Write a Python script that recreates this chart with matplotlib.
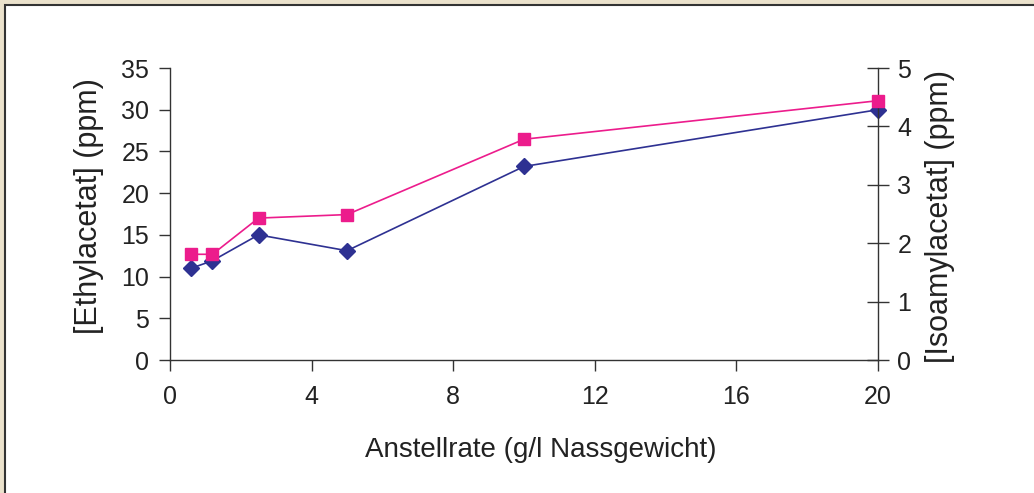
import matplotlib.pyplot as plt
from matplotlib.patches import Rectangle

plt.rcParams['font.family'] = ['Liberation Sans', 'DejaVu Sans']

# data
anstellrate = [0.6, 1.2, 2.5, 5.0, 10.0, 20.0]
ethylacetat = [11.0, 11.9, 15.0, 13.1, 23.2, 30.0]
isoamylacetat = [1.81, 1.81, 2.43, 2.49, 3.78, 4.44]

x_ticks = [0, 4, 8, 12, 16, 20]
left_ticks = [0, 5, 10, 15, 20, 25, 30, 35]
right_ticks = [0, 1, 2, 3, 4, 5]

BLUE = '#2e3192'
PINK = '#ec1c8c'

fig = plt.figure(figsize=(10.34, 4.93), dpi=100)
fig.patch.set_facecolor('#ebe2cc')
# white panel with dark frame (runs off right/bottom edge)
fig.patches.append(Rectangle((5 / 1034, -0.05), 1.1, 1 - 5 / 493 + 0.05,
                             transform=fig.transFigure, facecolor='white',
                             edgecolor='#333333', lw=1.5, zorder=-10))

ax = fig.add_axes([170 / 1034, 1 - 360 / 493, (878 - 170) / 1034, (360 - 68) / 493])
ax.set_facecolor('none')
ax2 = ax.twinx()

ax.plot(anstellrate, ethylacetat, color=BLUE, lw=1.2, marker='D', ms=8,
        clip_on=False, zorder=3)
ax2.plot(anstellrate, isoamylacetat, color=PINK, lw=1.2, marker='s', ms=8.5,
         clip_on=False, zorder=3)

ax.set_xlim(0, 20)
ax.set_ylim(0, 35)
ax2.set_ylim(0, 5)
ax.set_xticks(x_ticks)
ax.set_yticks(left_ticks)
ax2.set_yticks(right_ticks)

for a in (ax, ax2):
    a.spines['top'].set_visible(False)
    for s in a.spines.values():
        s.set_color('#333333')
        s.set_linewidth(1.0)
ax.spines['right'].set_visible(False)
ax2.spines['left'].set_visible(False)
ax2.spines['bottom'].set_visible(False)

ax.tick_params(axis='y', labelsize=18, colors='#333333', labelcolor='#222222',
               length=8, width=1.0, direction='out', pad=7)
ax.tick_params(axis='x', labelsize=18, colors='#333333', labelcolor='#222222',
               length=8, width=1.0, direction='out', pad=10)
ax2.tick_params(axis='y', labelsize=18, colors='#333333', labelcolor='#222222',
                length=16, width=1.0, direction='inout', pad=6)

ax.set_xlabel('Anstellrate (g/l Nassgewicht)', fontsize=20, color='#222222')
ax.set_ylabel('[Ethylacetat] (ppm)', fontsize=22, color='#222222', labelpad=12)
ax2.set_ylabel('[Isoamylacetat] (ppm)', fontsize=22, color='#222222', labelpad=10)
ax.xaxis.set_label_coords(0.523, -0.308)
ax.xaxis.label.set_va('center')
ax.yaxis.label.set_y(0.527)
ax2.yaxis.label.set_y(0.493)

fig.savefig('out.png', dpi=100, facecolor=fig.get_facecolor())
